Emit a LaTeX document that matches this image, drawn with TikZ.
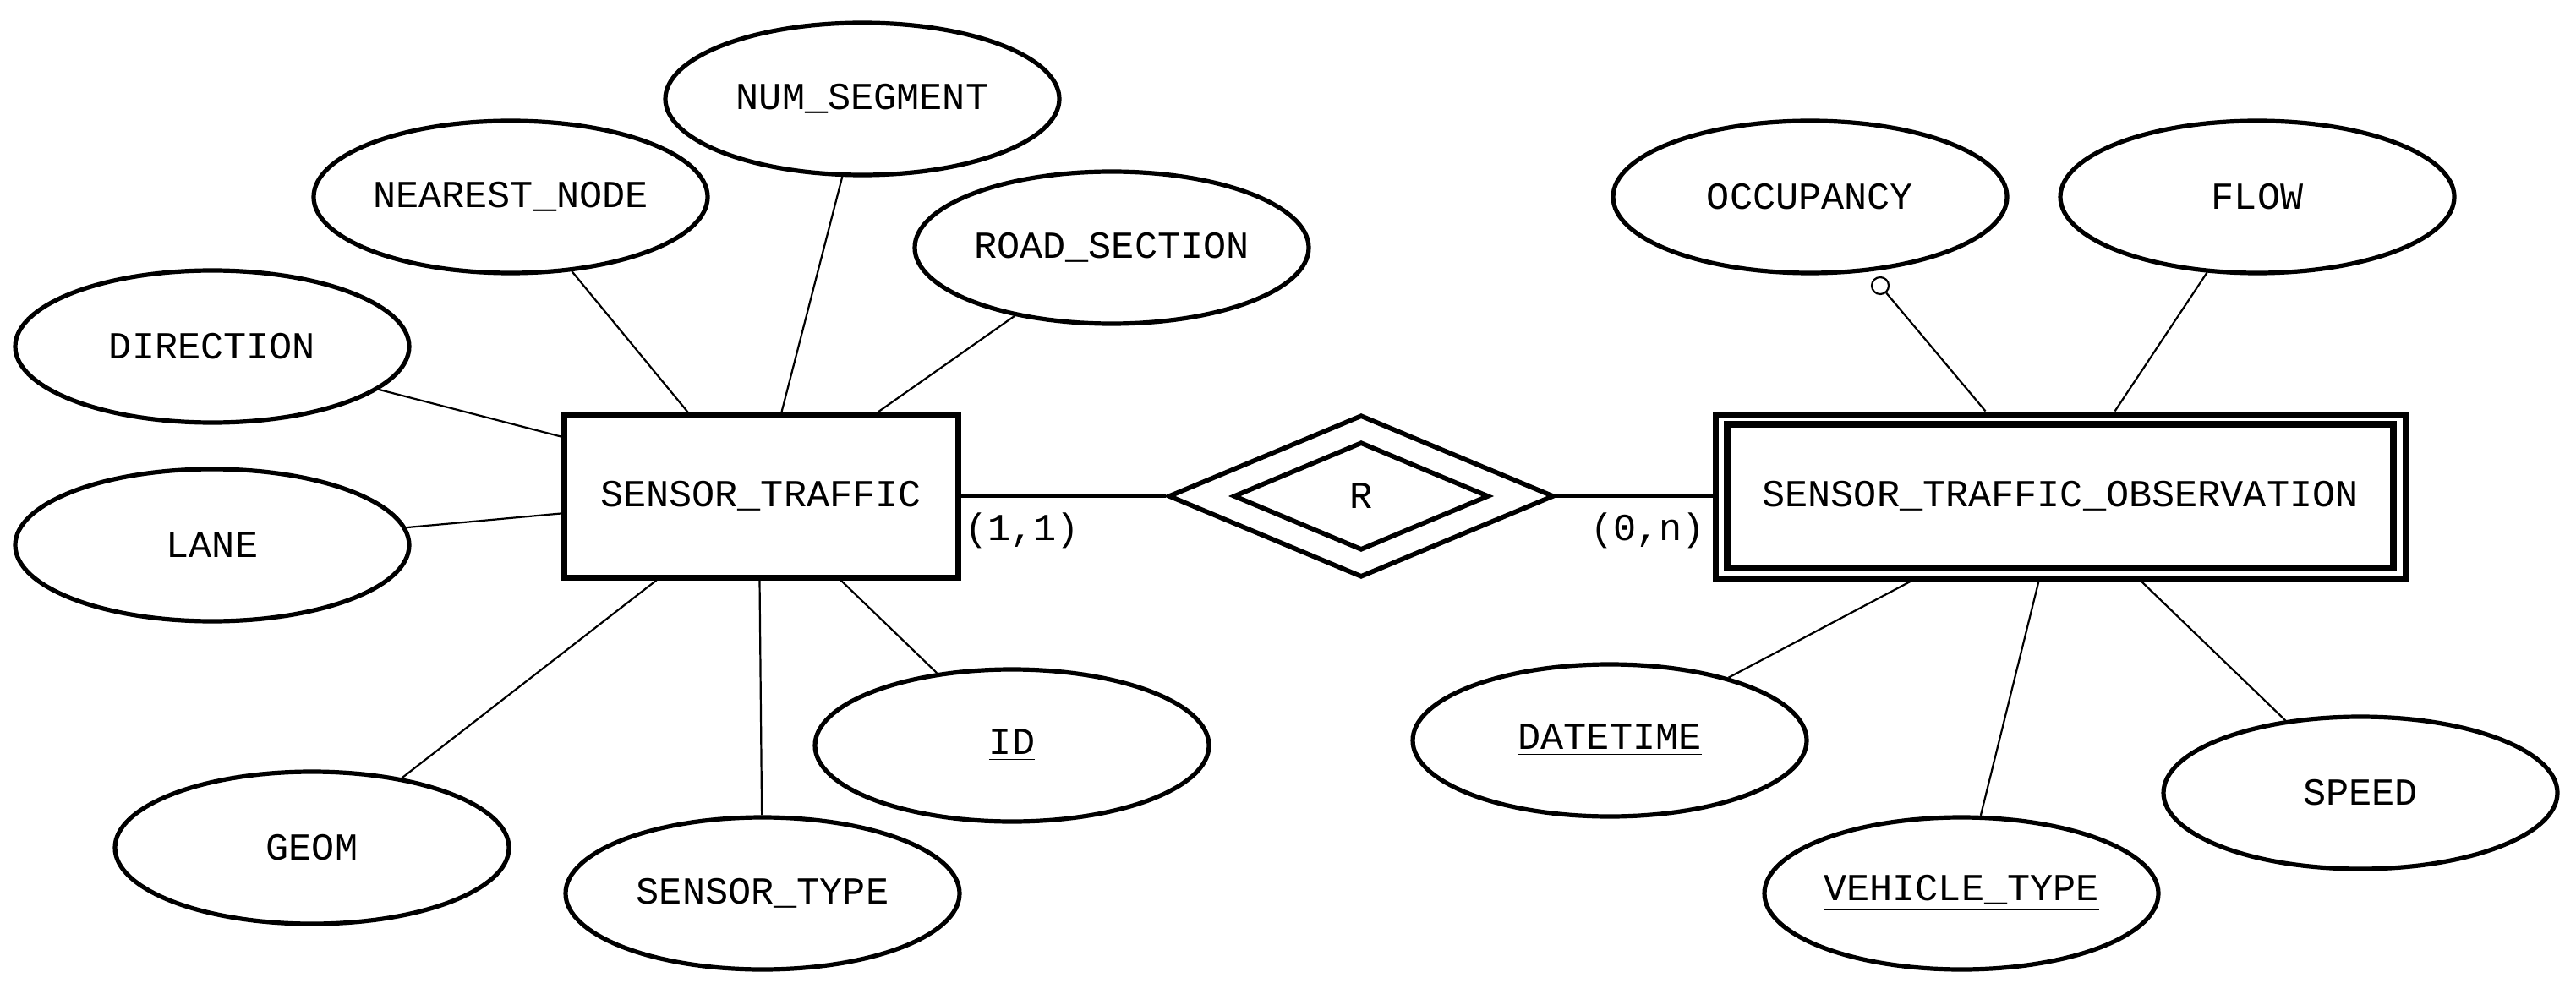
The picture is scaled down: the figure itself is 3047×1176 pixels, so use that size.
\documentclass[tikz,border=0pt]{standalone}
\usepackage{fontspec}
\setmainfont{Liberation Mono}
\usetikzlibrary{shapes.geometric,calc}
\begin{document}
\begin{tikzpicture}[x=0.25pt,y=-0.25pt,
  lbl/.style={font=\fontsize{11.3}{13}\selectfont},
  attr/.style={lbl,ellipse,draw,line width=1.3pt,minimum width=116.5pt,minimum height=45pt,inner sep=0pt},
  ent/.style={lbl,rectangle,draw,line width=1.75pt,inner sep=0pt},
  relshape/.style={lbl,diamond,draw,line width=1.4pt,inner sep=0pt},
  link/.style={line width=0.55pt},
  rel/.style={line width=1.1pt},
  optmark/.style={circle,draw,line width=0.55pt,minimum size=5pt,inner sep=0pt}]
\useasboundingbox (0,0) rectangle (3047,1176);

% entities
\node[ent,minimum width=116.5pt,minimum height=48pt] (st) at (900,587) {SENSOR\_TRAFFIC};
\node[ent,minimum width=204pt,minimum height=48.5pt] (sto) at (2437,587) {};
\node[ent,line width=2pt,minimum width=197pt,minimum height=42.5pt] (stoin) at (2437,587) {SENSOR\_TRAFFIC\_OBSERVATION};

% relationship
\node[relshape,minimum width=114pt,minimum height=48pt] (r) at (1610,587) {};
\node[relshape,minimum width=75.5pt,minimum height=32pt] (rin) at (1610,587) {R};

% attributes of SENSOR_TRAFFIC
\node[attr] (numseg) at (1020,117) {NUM\_SEGMENT};
\node[attr] (nearest) at (604,233) {NEAREST\_NODE};
\node[attr] (road) at (1315,293) {ROAD\_SECTION};
\node[attr] (dir) at (251,410) {DIRECTION};
\node[attr] (lane) at (251,645) {LANE};
\node[attr] (geom) at (369,1003) {GEOM};
\node[attr] (stype) at (902,1057) {SENSOR\_TYPE};
\node[attr] (id) at (1197,882) {\underline{ID}};

% attributes of SENSOR_TRAFFIC_OBSERVATION
\node[attr] (occ) at (2141,233) {OCCUPANCY};
\node[attr] (flow) at (2670,233) {FLOW};
\node[attr] (dt) at (1904,876) {\underline{DATETIME}};
\node[attr] (veh) at (2320,1057) {\underline{VEHICLE\_TYPE}};
\node[attr] (speed) at (2792,938) {SPEED};
\node[optmark] (occopt) at (2224,338) {};

% attribute links
\draw[link] (nearest) -- ($(st.north west)+(150,0)$);
\draw[link] (numseg) -- ($(st.north west)+(261,0)$);
\draw[link] (road) -- ($(st.north west)+(375,0)$);
\draw[link] (dir) -- ($(st.north west)+(0,29)$);
\draw[link] (lane) -- ($(st.north west)+(0,120)$);
\draw[link] (geom) -- ($(st.south west)+(113,0)$);
\draw[link] (stype) -- ($(st.south west)+(235,0)$);
\draw[link] (id) -- ($(st.south west)+(331,0)$);

\draw[link] (occopt) -- ($(sto.north west)+(323,0)$);
\draw[link] (flow) -- ($(sto.north west)+(476,0)$);
\draw[link] (dt) -- ($(sto.south west)+(235,0)$);
\draw[link] (veh) -- ($(sto.south west)+(386,0)$);
\draw[link] (speed) -- ($(sto.south west)+(507,0)$);

% relationship links
\draw[rel] (st.east) -- (r.west);
\draw[rel] (r.east) -- (sto.west);

% cardinalities
\node[lbl] (c1) at (1209,628) {(1,1)};
\node[lbl] (c2) at (1949,628) {(0,n)};
\end{tikzpicture}
\end{document}
